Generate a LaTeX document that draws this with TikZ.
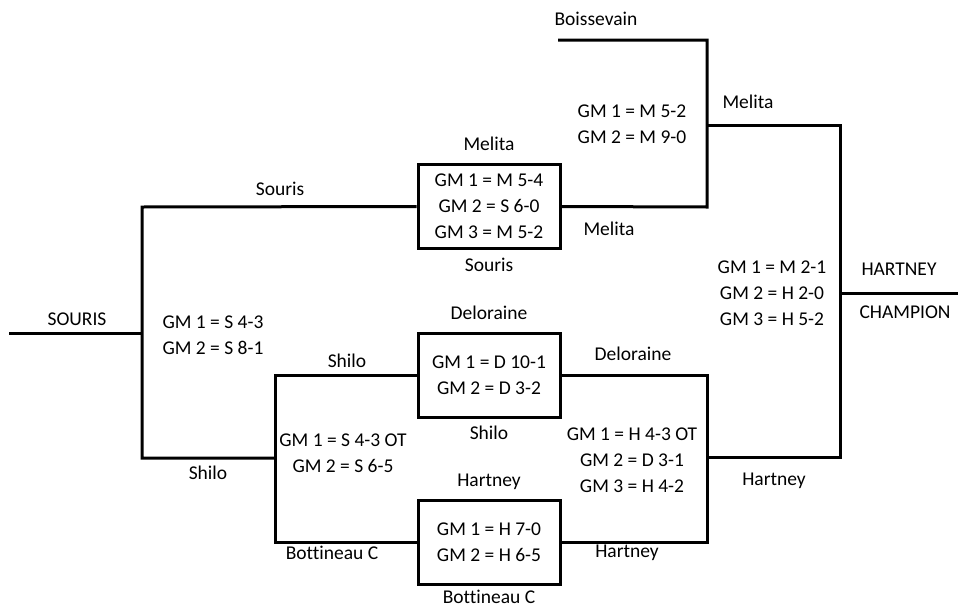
\documentclass[tikz,border=0pt]{standalone}
\usepackage{fontspec}
\setmainfont{Carlito}[Ligatures=NoCommon]
\usetikzlibrary{positioning}

\begin{document}
\begin{tikzpicture}[
  x=1pt, y=-1pt,
  bracket/.style={line width=3pt, line join=miter},
  gamebox/.style={rectangle, draw, line width=3pt, minimum width=142pt, minimum height=84pt, align=center, font=\fontsize{19.5}{26}\selectfont},
  team/.style={font=\fontsize{19.5}{23}\selectfont, inner sep=0pt, text height=13pt, text depth=4pt},
  score/.style={align=center, font=\fontsize{19.5}{26}\selectfont, inner sep=0pt}
]
  \useasboundingbox (0,0) rectangle (958,608);

  % Series boxes
  \node[gamebox] (melbox) at (489,206.5) {GM 1 = M 5-4\\GM 2 = S 6-0\\GM 3 = M 5-2};
  \node[gamebox] (delbox) at (489,375) {GM 1 = D 10-1\\GM 2 = D 3-2};
  \node[gamebox] (harbox) at (489,542) {GM 1 = H 7-0\\GM 2 = H 6-5};

  % Box team names
  \node[team, above=8pt of melbox] (melt) {Melita};
  \node[team, below=8pt of melbox] (melb) {Souris};
  \node[team, above=8pt of delbox] (delt) {Deloraine};
  \node[team, below=8pt of delbox] (delb) {Shilo};
  \node[team, above=8pt of harbox] (hart) {Hartney};
  \node[team, below=5pt of harbox] (harb) {Bottineau C};

  % Bracket joints
  \coordinate (start) at (9,333);
  \coordinate (ja) at (142,333);
  \coordinate (jat) at (142,207);
  \coordinate (jab) at (142,458);
  \coordinate (jb) at (275,458);
  \coordinate (jbt) at (275,375);
  \coordinate (jbb) at (275,542);
  \coordinate (boiss) at (558,40);
  \coordinate (jc) at (707,125);
  \coordinate (jct) at (707,40);
  \coordinate (jcb) at (707,207);
  \coordinate (jd) at (707,457);
  \coordinate (jdt) at (707,375);
  \coordinate (jdb) at (707,542);
  \coordinate (je) at (840,293);
  \coordinate (jet) at (840,125);
  \coordinate (jeb) at (840,457);
  \coordinate (final) at (958,293);

  % Lines
  \draw[bracket] (start) -- (ja);
  \draw[bracket] (melbox.west) -- (jat) -- (jab) -- (jb);
  \draw[bracket] (delbox.west) -- (jbt) -- (jbb) -- (harbox.west);
  \draw[bracket] (boiss) -- (jct) -- (jcb) -- (melbox.east);
  \draw[bracket] (delbox.east) -- (jdt) -- (jdb) -- (harbox.east);
  \draw[bracket] (jc) -- (jet) -- (jeb) -- (jd);
  \draw[bracket] (je) -- (final);

  % Line labels
  \node[team] (lsouris) at (77,321) {SOURIS};
  \node[team] (lsou2) at (280,191) {Souris};
  \node[team] (lshilo) at (208,475) {Shilo};
  \node[team] (lshilo2) at (347,363) {Shilo};
  \node[team] (lbott) at (332,555) {Bottineau C};
  \node[team] (lboiss) at (596,21) {Boissevain};
  \node[team] (lmel) at (609,231) {Melita};
  \node[team] (lmel2) at (748,104) {Melita};
  \node[team] (ldel) at (633,356) {Deloraine};
  \node[team] (lhar) at (627,553) {Hartney};
  \node[team] (lhar2) at (774,481) {Hartney};
  \node[team] (champ1) at (899,271) {HARTNEY};
  \node[team] (champ2) at (905,314) {CHAMPION};

  % Series results
  \node[score] (sa) at (213,335) {GM 1 = S 4-3\\GM 2 = S 8-1};
  \node[score] (sb) at (343,453) {GM 1 = S 4-3 OT\\GM 2 = S 6-5};
  \node[score] (sc) at (632,124) {GM 1 = M 5-2\\GM 2 = M 9-0};
  \node[score] (sd) at (632,460) {GM 1 = H 4-3 OT\\GM 2 = D 3-1\\GM 3 = H 4-2};
  \node[score] (se) at (772,293) {GM 1 = M 2-1\\GM 2 = H 2-0\\GM 3 = H 5-2};
\end{tikzpicture}
\end{document}
